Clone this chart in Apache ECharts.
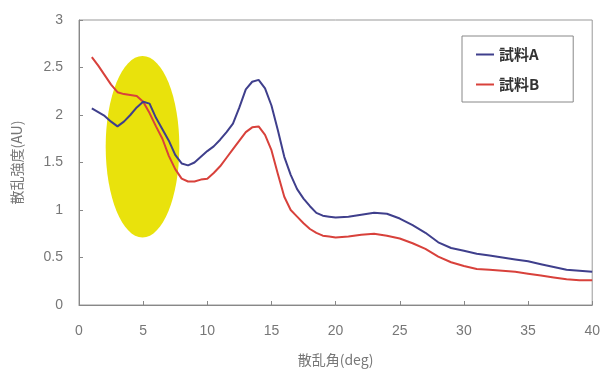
<!DOCTYPE html>
<html lang="ja" style="height: 100%">
<head>
  <meta charset="utf-8">
</head>
<body style="height: 100%; margin: 0; background: #fff">
  <div id="container" style="width: 603px; height: 372px"></div>

  <script type="text/javascript" src="https://cdn.jsdelivr.net/npm/echarts@6/dist/echarts.min.js"></script>
  <script type="text/javascript">
    // 散乱角 (deg)
    var angle = [1, 1.5, 2, 2.5, 3, 3.5, 4, 4.5, 5, 5.5, 6, 6.5, 7, 7.5, 8, 8.5, 9, 9.5, 10, 10.5,
      11, 11.5, 12, 12.5, 13, 13.5, 14, 14.5, 15, 15.5, 16, 16.5, 17, 17.5, 18, 18.5, 19, 19.5,
      20, 21, 22, 23, 24, 25, 26, 27, 28, 29, 30, 31, 32, 33, 34, 35, 36, 37, 38, 39, 40];

    var sampleA = [2.07, 2.03, 1.99, 1.93, 1.88, 1.93, 2.00, 2.08, 2.14, 2.12, 1.97, 1.85, 1.73, 1.58, 1.49, 1.47, 1.50, 1.56, 1.62, 1.67,
      1.74, 1.82, 1.91, 2.08, 2.27, 2.35, 2.37, 2.28, 2.10, 1.84, 1.56, 1.37, 1.22, 1.12, 1.04, 0.97, 0.94, 0.93,
      0.92, 0.93, 0.95, 0.97, 0.96, 0.91, 0.84, 0.76, 0.66, 0.60, 0.57, 0.54, 0.52, 0.50, 0.48, 0.46, 0.43, 0.40, 0.37, 0.36, 0.35];

    var sampleB = [2.61, 2.52, 2.42, 2.32, 2.24, 2.22, 2.21, 2.20, 2.14, 2.02, 1.88, 1.75, 1.57, 1.43, 1.33, 1.30, 1.30, 1.32, 1.33, 1.39,
      1.46, 1.55, 1.64, 1.73, 1.82, 1.87, 1.88, 1.79, 1.63, 1.38, 1.14, 1.00, 0.93, 0.86, 0.80, 0.76, 0.73, 0.72,
      0.71, 0.72, 0.74, 0.75, 0.73, 0.70, 0.65, 0.59, 0.51, 0.45, 0.41, 0.38, 0.37, 0.36, 0.35, 0.33, 0.31, 0.29, 0.27, 0.26, 0.26];

    var seriesNames = ['試料A', '試料B'];
    var yTicks = ['0', '0.5', '1', '1.5', '2', '2.5', '3'];

    // 黄色の楕円 (中心x, 中心y, 半径x, 半径y) データ単位
    var highlight = [[4.95, 1.665, 2.87, 0.955]];

    var myChart = echarts.init(document.getElementById('container'));

    function pairs(ys) {
      return angle.map(function (x, i) { return [x, ys[i]]; });
    }

    var labelFont = { color: '#777', fontSize: 14, fontFamily: 'Arial, "Liberation Sans", sans-serif' };
    var jpFont = '"Noto Sans CJK JP", sans-serif';

    var option = {
      animation: false,
      grid: { left: 79, right: 8, top: 20, bottom: 61, show: true, borderColor: '#999', borderWidth: 1 },
      legend: {
        data: seriesNames,
        orient: 'vertical',
        left: 462,
        top: 36,
        padding: [11, 34, 10, 14],
        itemGap: 15,
        itemWidth: 18,
        itemHeight: 2,
        icon: 'rect',
        borderColor: '#888',
        borderWidth: 1,
        backgroundColor: '#fff',
        textStyle: { color: '#333', fontSize: 15, fontWeight: 'bold', fontFamily: jpFont }
      },
      xAxis: {
        type: 'value',
        min: 0, max: 40, interval: 5,
        name: '散乱角(deg)',
        nameLocation: 'middle',
        nameGap: 48,
        nameTextStyle: { color: '#777', fontSize: 14, fontFamily: jpFont },
        axisLine: { lineStyle: { color: '#888' } },
        axisTick: { inside: true, length: 4, lineStyle: { color: '#888' } },
        axisLabel: Object.assign({ margin: 19 }, labelFont),
        splitLine: { show: false }
      },
      yAxis: {
        type: 'value',
        min: 0, max: 3, interval: 0.5,
        name: '散乱強度(AU)',
        nameLocation: 'middle',
        nameGap: 55,
        nameTextStyle: { color: '#777', fontSize: 14, fontFamily: jpFont },
        axisLine: { show: true, lineStyle: { color: '#888' } },
        axisTick: { show: true, inside: true, length: 4, lineStyle: { color: '#888' } },
        axisLabel: Object.assign({
          margin: 16,
          formatter: function (v) { return yTicks[Math.round(v * 2)]; }
        }, labelFont),
        splitLine: { show: false }
      },
      series: [
        {
          type: 'custom',
          silent: true,
          z: 1,
          data: highlight,
          renderItem: function (params, api) {
            var c = api.coord([api.value(0), api.value(1)]);
            var sx = api.size([api.value(2), 0])[0];
            var sy = api.size([0, api.value(3)])[1];
            return {
              type: 'ellipse',
              shape: { cx: c[0], cy: c[1], rx: sx, ry: sy },
              style: { fill: '#e9e20c' }
            };
          }
        },
        {
          name: seriesNames[0],
          type: 'line',
          z: 3,
          data: pairs(sampleA),
          showSymbol: false,
          color: '#3f3f8c',
          lineStyle: { width: 2 }
        },
        {
          name: seriesNames[1],
          type: 'line',
          z: 2,
          data: pairs(sampleB),
          showSymbol: false,
          color: '#d8413b',
          lineStyle: { width: 2 }
        }
      ]
    };

    myChart.setOption(option);
    window.addEventListener('resize', myChart.resize);
  </script>
</body>
</html>
